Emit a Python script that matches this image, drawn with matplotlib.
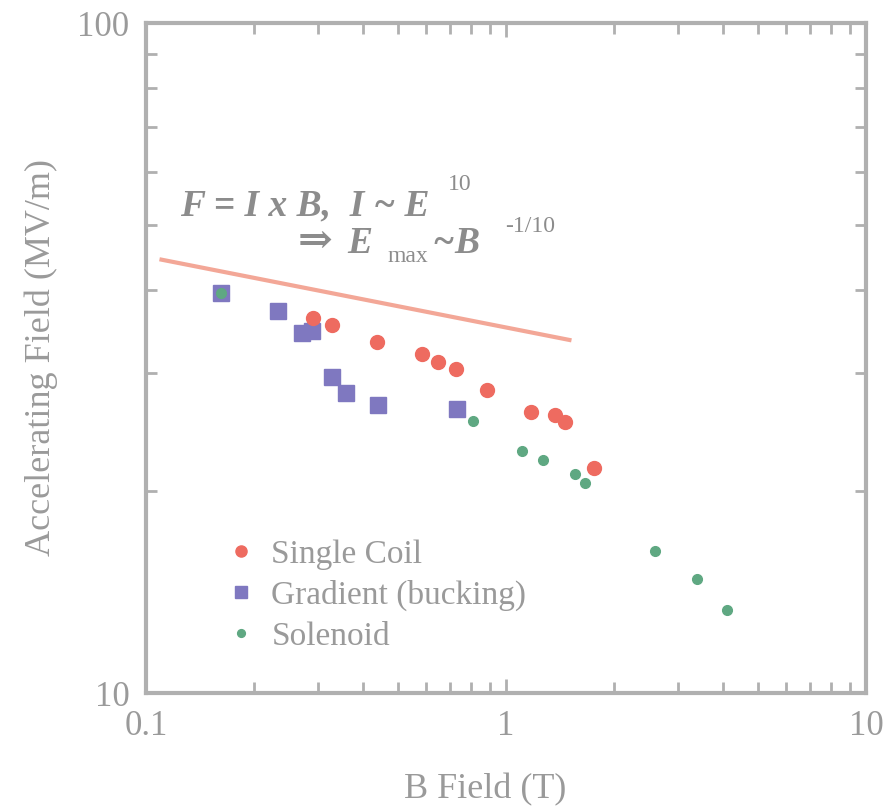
import matplotlib
matplotlib.use("Agg")
import matplotlib.pyplot as plt
from matplotlib.ticker import FixedLocator, NullFormatter, LogLocator

# ---- data ----
single_b = [0.291, 0.328, 0.438, 0.584, 0.647, 0.726, 0.886, 1.17, 1.37, 1.46, 1.76]
single_e = [36.3, 35.4, 33.4, 32.1, 31.2, 30.5, 28.3, 26.3, 26.0, 25.4, 21.7]

grad_b = [0.162, 0.232, 0.272, 0.290, 0.329, 0.360, 0.440, 0.731]
grad_e = [39.5, 37.2, 34.5, 34.7, 29.6, 28.0, 26.9, 26.5]

sol_b = [0.162, 0.811, 1.11, 1.27, 1.55, 1.66, 2.59, 3.39, 4.11]
sol_e = [39.5, 25.5, 23.0, 22.3, 21.2, 20.6, 16.3, 14.8, 13.3]

scaling_b = [0.109, 1.52]
scaling_e = [44.4, 33.6]

x_ticks = [0.1, 1, 10]
x_tick_labels = ["0.1", "1", "10"]
y_ticks = [10, 100]
y_tick_labels = ["10", "100"]

# ---- style ----
RED = "#ee6b60"
BLUE = "#7f78c0"
GREEN = "#5fa882"
LINE = "#f3a797"
GRAY_TXT = "#9a9a9a"
EQ_TXT = "#8c8c8c"
SPINE = "#b0b0b0"
plt.rcParams["font.family"] = ["Liberation Serif", "DejaVu Serif"]

fig = plt.figure(figsize=(8.92, 8.06), dpi=100)
ax = fig.add_axes([146 / 892, 113 / 806, 720 / 892, 670 / 806])
ax.set_xscale("log")
ax.set_yscale("log")
ax.set_xlim(0.1, 10)
ax.set_ylim(10, 100)

ax.plot(scaling_b, scaling_e, color=LINE, lw=3, solid_capstyle="butt", zorder=2)

ax.plot(grad_b, grad_e, ls="none", marker="s", ms=11, color=BLUE,
        label="Gradient (bucking)", zorder=3)
ax.plot(single_b, single_e, ls="none", marker="o", ms=10, color=RED,
        label="Single Coil", zorder=4)
ax.plot(sol_b, sol_e, ls="none", marker="o", ms=7, color=GREEN,
        label="Solenoid", zorder=5)

# ticks
ax.xaxis.set_major_locator(FixedLocator(x_ticks))
ax.set_xticklabels(x_tick_labels)
ax.yaxis.set_major_locator(FixedLocator(y_ticks))
ax.set_yticklabels(y_tick_labels)
ax.xaxis.set_minor_locator(LogLocator(base=10, subs=range(2, 10)))
ax.yaxis.set_minor_locator(LogLocator(base=10, subs=range(2, 10)))
ax.xaxis.set_minor_formatter(NullFormatter())
ax.yaxis.set_minor_formatter(NullFormatter())
ax.tick_params(which="both", direction="in", top=True, right=True,
               color=SPINE, labelcolor=GRAY_TXT, labelsize=25, width=2)
ax.tick_params(which="major", length=10, pad=12)
ax.tick_params(which="minor", length=8)
for s in ax.spines.values():
    s.set_color(SPINE)
    s.set_linewidth(3)

ax.set_xlabel("B Field (T)", fontsize=26, color=GRAY_TXT)
ax.xaxis.set_label_coords(0.471, -0.120)
ax.set_ylabel("Accelerating Field (MV/m)", fontsize=26, color=GRAY_TXT, labelpad=14)

# legend
handles, labels = ax.get_legend_handles_labels()
order = [1, 0, 2]
leg = ax.legend([handles[i] for i in order], [labels[i] for i in order],
                loc="upper left", bbox_to_anchor=(0.114, 0.229), frameon=False,
                fontsize=24, handlelength=0.8, handletextpad=0.5,
                labelspacing=0.3, borderpad=0, borderaxespad=0,
                markerscale=0.8)
for t in leg.get_texts():
    t.set_color(GRAY_TXT)

# equation annotation
big = dict(transform=ax.transAxes, color=EQ_TXT, style="italic",
           weight="bold", va="baseline", ha="left", fontsize=27)
small = dict(transform=ax.transAxes, color=EQ_TXT, va="baseline",
             ha="left", fontsize=17)
ax.text(0.047, 0.712, "F = I x B,  I ~ E", **big)
ax.text(0.419, 0.751, "10", **small)
ax.text(0.210, 0.656, "\u21d2", **{**big, "style": "normal", "fontsize": 30})
ax.text(0.279, 0.656, "E", **big)
ax.text(0.335, 0.643, "max", **small)
ax.text(0.398, 0.656, "~", **big)
ax.text(0.428, 0.656, "B", **big)
ax.text(0.499, 0.688, "-1/10", **small)

fig.savefig("out.png", dpi=100, facecolor="white")
